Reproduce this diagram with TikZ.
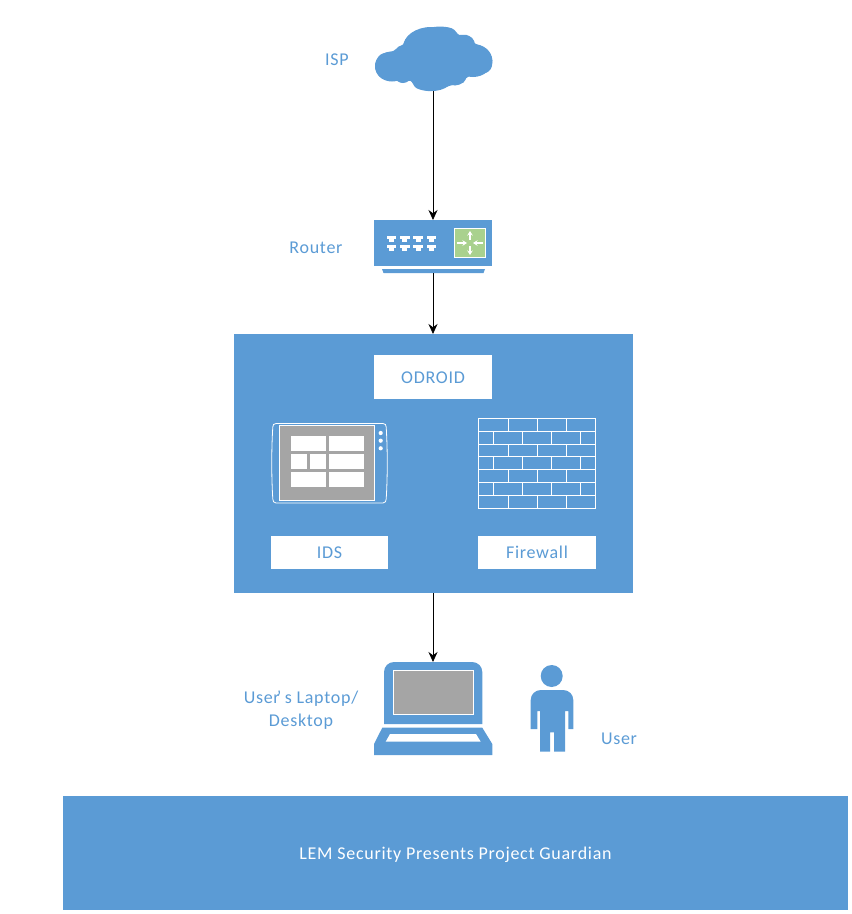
\documentclass[tikz,border=0pt]{standalone}
\usepackage{fontspec}
\setmainfont{Carlito}[LetterSpace=4]
\usetikzlibrary{arrows.meta}
\definecolor{blu}{HTML}{5B9BD5}
\definecolor{gry}{HTML}{A5A5A5}
\definecolor{grn}{HTML}{A9D18E}
\tikzset{
  panel/.style={fill=blu,draw=none,inner sep=0pt,outer sep=0pt,rectangle},
  tag/.style={fill=white,draw=none,text=blu,font=\fontsize{18}{21}\selectfont,inner sep=0pt,outer sep=0pt,rectangle,text height=12pt,text depth=0pt},
  lab/.style={text=blu,font=\fontsize{18}{23}\selectfont,inner sep=0pt,text height=12pt,text depth=0pt},
  lab2/.style={text=blu,font=\fontsize{18}{23}\selectfont,inner sep=0pt,align=center},
  link/.style={draw=black,line width=0.8pt,-{Stealth[length=10pt,width=9pt]}},
  brick/.style={draw=white,line width=1pt},
  wline/.style={draw=white,line width=1.1pt,-{Stealth[length=4.5pt,width=5.5pt]}},
}
\begin{document}
\begin{tikzpicture}[x=1pt,y=-1pt]
\useasboundingbox (0,0) rectangle (852,914);
% cloud
\fill[blu] plot[smooth cycle,tension=0.6] coordinates {(393.3,51) (398.3,46.7) (403.3,44.3) (406.7,37.7) (416.7,30.7) (436.7,26.7) (451.7,28.3) (459.3,35) (466.7,35) (475,43.3) (486.7,50) (492.3,60) (488.3,71.7) (468.3,76.7) (463.3,82.7) (450,85.7) (431.7,91) (416.7,88.3) (410.7,81) (401.7,82.7) (395,80) (381.7,78.3) (375,66.7) (380,55)};
\fill[blu] (392,66.5) ellipse [x radius=17,y radius=15];
\fill[blu] (431,47.5) ellipse [x radius=28,y radius=20.5];
\fill[blu] (465,45) ellipse [x radius=10,y radius=10];
\fill[blu] (473,60.5) ellipse [x radius=19.3,y radius=16.5];
\fill[blu] (432,76) ellipse [x radius=22,y radius=15];
\fill[blu] (403,75.5) ellipse [x radius=8,y radius=7.5];
\fill[blu] (455,73) ellipse [x radius=12,y radius=12.5];
\coordinate (cloud) at (433,91);
\node[lab] (isp) at (337,59) {ISP};
% router
\node[panel,minimum width=118pt,minimum height=46pt] (router) at (433,243) {};
\fill[blu] (382,269) -- (485,269) -- (483.5,273) -- (383.5,273) -- cycle;
\coordinate (routerbase) at (433,273);
\foreach \px in {391.5,404.8,418.2,431.5}{
  \foreach \py in {236,245}{
    \fill[white] (\px-4.8,\py) rectangle (\px+4.8,\py+3.2);
    \fill[white] (\px-2.6,\py+3.2) rectangle (\px+2.6,\py+5.8);
  }
}
\fill[grn,draw=white,line width=0.8pt] (454.5,228.5) rectangle (485.5,257.5);
\draw[wline] (457,243) -- (467,243);
\draw[wline] (483,243) -- (473,243);
\draw[wline] (470,240) -- (470,231);
\draw[wline] (470,246) -- (470,255);
\node[lab] (routerlab) at (316,247) {Router};
% odroid panel
\node[panel,minimum width=399pt,minimum height=259pt] (odroid) at (433.5,463.5) {};
\node[tag,minimum width=118pt,minimum height=44pt] (odroidtag) at (433,377) {ODROID};
\node[tag,minimum width=117pt,minimum height=33pt] (ids) at (329.5,552.5) {IDS};
\node[tag,minimum width=118pt,minimum height=33pt] (firewall) at (537,552.5) {Firewall};
% tablet
\draw[white,line width=0.8pt] (276,423.5) -- (383,423.5) .. controls (385.5,423.5) and (386,425) .. (386.2,427) .. controls (387.6,450) and (387.6,476) .. (386.2,499) .. controls (386,501) and (385.5,503) .. (383,503) -- (276,503) .. controls (273.5,503) and (273,501) .. (272.8,499) .. controls (271.4,476) and (271.4,450) .. (272.8,427) .. controls (273,425) and (273.5,423.5) .. (276,423.5) -- cycle;
\fill[gry,draw=white,line width=0.8pt] (279.5,425.5) rectangle (374.5,500);
\foreach \xa/\xb/\ya/\yb in {291/326/436/451, 329/364/436/451, 291/307/454/469, 310/326/454/469, 329/364/454/469, 291/326/472/487, 329/364/472/487}{
  \fill[white] (\xa,\ya) rectangle (\xb,\yb);
}
\foreach \dy in {433,440.7,448.3}{ \fill[white] (380.7,\dy) circle (2.1); }
% firewall wall
\draw[brick] (478.3,418.3) rectangle (595.7,508.3);
\foreach \ly in {431.3,444.3,456.7,469.3,482.3,495.3}{ \draw[brick] (478.3,\ly) -- (595.7,\ly); }
\foreach \ya/\yb in {418.3/431.3,444.3/456.7,469.3/482.3,495.3/508.3}{
  \foreach \vx in {508.3,537.3,566.3}{ \draw[brick] (\vx,\ya) -- (\vx,\yb); }
}
\foreach \ya/\yb in {431.3/444.3,456.7/469.3,482.3/495.3}{
  \foreach \vx in {493.3,522.3,551.3,580.7}{ \draw[brick] (\vx,\ya) -- (\vx,\yb); }
}
% laptop
\fill[blu] (384,724) -- (384,672) arc[start angle=180,end angle=270,radius=10] -- (472.3,662) arc[start angle=270,end angle=360,radius=10] -- (482.3,724) -- cycle;
\coordinate (laptop) at (433,662);
\fill[gry,draw=white,line width=0.8pt] (393.3,670.3) rectangle (473.7,714.3);
\fill[blu] (382.3,727.7) -- (482.3,727.7) -- (492.3,744) -- (492.3,755) -- (374,755) -- (374,744) -- cycle;
\fill[white] (390,734) -- (476,734) -- (480.7,741.7) -- (385.7,741.7) -- cycle;
\node[lab2] (laptoplab) at (301,710) {User\kern-3pt’\kern3.5pt s Laptop/\\Desktop};
% user
\fill[blu] (551.7,676) circle (11);
\fill[blu] (530.7,729) -- (530.7,700) arc[start angle=180,end angle=270,radius=10] -- (563.3,690) arc[start angle=270,end angle=360,radius=10] -- (573.3,729) -- (568.3,729) -- (568.3,711) -- (565,711) -- (565,751.7) -- (554,751.7) -- (554,732.3) -- (550,732.3) -- (550,751.7) -- (540,751.7) -- (540,711) -- (537.3,711) -- (537.3,729) -- cycle;
\node[lab] (userlab) at (619,738) {User};
% banner
\node[panel,minimum width=785pt,minimum height=114pt,text=white,font=\fontsize{18}{21}\selectfont,text height=12pt,text depth=0pt] (banner) at (455.5,853) {LEM Security Presents Project Guardian};
% connectors
\draw[link] (cloud) -- (router.north);
\draw[link] (routerbase) -- (odroid.north -| routerbase);
\draw[link] (odroid.south -| laptop) -- (laptop);
\end{tikzpicture}
\end{document}
